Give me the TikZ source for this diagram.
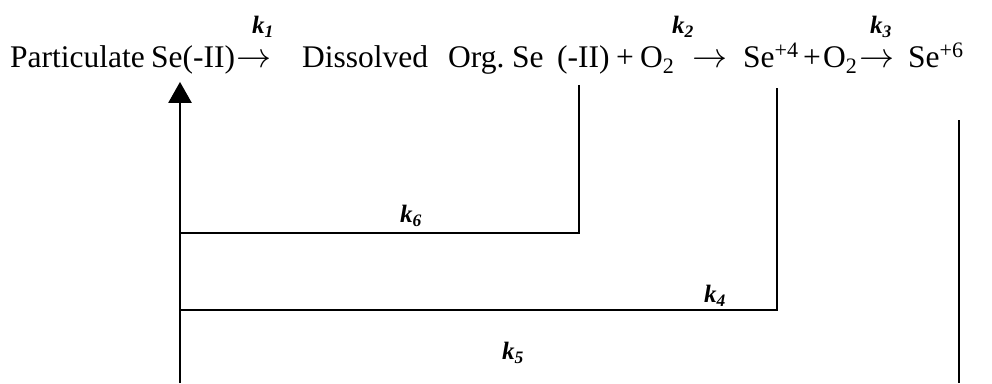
\documentclass[tikz,border=0pt]{standalone}
\usepackage{graphicx}
\usepackage{fontspec}
\setmainfont{Liberation Serif}
\usetikzlibrary{arrows.meta}
\newcommand{\rxarrow}{\smash{\resizebox{35pt}{!}{$\rightarrow$}}}
\begin{document}
\begin{tikzpicture}[x=1pt,y=-1pt,
  txt/.style={anchor=base west,inner sep=0pt,font=\fontsize{31.5}{36}\selectfont},
  arr/.style={anchor=base west,inner sep=0pt},
  klab/.style={inner sep=0pt,font=\fontsize{25}{30}\selectfont\bfseries\itshape},
  link/.style={draw=black,line width=2.6pt},
  uparrow/.style={link,-{Triangle[width=23pt,length=21pt]}}]
\useasboundingbox[fill=white] (0,0) rectangle (992,383);
% main reaction line
\node[txt] (part) at (10,67) {Particulate};
\node[txt] (seA) at (151,67) {Se(-II)};
\node[arr] (arr1) at (236,67) {\rxarrow};
\node[txt] (dis) at (302,67) {Dissolved};
\node[txt] (org) at (448,67) {Org.};
\node[txt] (seB) at (512,67) {Se};
\node[txt] (iiB) at (557,67) {(-II)};
\node[txt] (plus1) at (616,67) {+};
\node[txt] (oxA) at (640,67) {O\textsubscript{2}};
\node[arr] (arr2) at (692,67) {\rxarrow};
\node[txt] (seC) at (743,67) {Se\textsuperscript{+4}};
\node[txt] (plus2) at (803,67) {+};
\node[txt] (oxB) at (823,67) {O\textsubscript{2}};
\node[arr] (arr3) at (859,67) {\rxarrow};
\node[txt] (seD) at (908,67) {Se\textsuperscript{+6}};
% rate constants
\node[klab] (k1) at (263,27) {k\textsubscript{1}};
\node[klab] (k2) at (683,27) {k\textsubscript{2}};
\node[klab] (k3) at (881,27) {k\textsubscript{3}};
\node[klab] (k6) at (411,216) {k\textsubscript{6}};
\node[klab] (k4) at (715,296) {k\textsubscript{4}};
\node[klab] (k5) at (513,353) {k\textsubscript{5}};
% junction points
\coordinate (j6) at (180,233);
\coordinate (j4) at (180,310);
\coordinate (botL) at (180,383);
\coordinate (botR) at (959,383);
% connectors
\draw[uparrow] (botL) -- ([yshift=-8pt]seA.south -| botL);
\draw[link] ([xshift=22pt,yshift=-11pt]iiB.south west) |- (j6);
\draw[link] ([xshift=34pt,yshift=-21pt]seC.base west) |- (j4);
\draw[link] ([xshift=51pt,yshift=-53pt]seD.base west) -- (botR);
\end{tikzpicture}
\end{document}
